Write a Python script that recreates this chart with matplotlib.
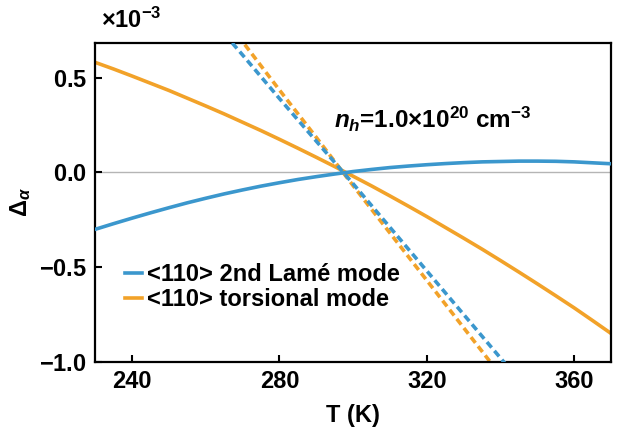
import matplotlib
matplotlib.use("Agg")
import matplotlib.pyplot as plt
from matplotlib.ticker import ScalarFormatter

# temperatures (K)
T_solid = [230, 235, 240, 245, 250, 255, 260, 265, 270, 275, 280, 285, 290, 295, 300,
           305, 310, 315, 320, 325, 330, 335, 340, 345, 350, 355, 360, 365, 370]
lame_solid = [-0.300, -0.270, -0.241, -0.213, -0.186, -0.160, -0.136, -0.113, -0.092,
              -0.072, -0.054, -0.037, -0.022, -0.008, 0.005, 0.016, 0.026, 0.034,
              0.041, 0.047, 0.052, 0.056, 0.058, 0.060, 0.060, 0.059, 0.056, 0.051, 0.046]
tors_solid = [0.581, 0.546, 0.509, 0.471, 0.433, 0.392, 0.351, 0.309, 0.265, 0.221,
              0.175, 0.128, 0.080, 0.031, -0.020, -0.071, -0.124, -0.178, -0.233,
              -0.290, -0.347, -0.405, -0.465, -0.526, -0.588, -0.651, -0.715, -0.782, -0.850]

T_dash = [260, 270, 280, 290, 300, 310, 320, 330, 340, 350]
lame_dash = [0.845, 0.62, 0.39, 0.165, -0.06, -0.29, -0.52, -0.75, -0.98, -1.21]
tors_dash = [0.94, 0.69, 0.435, 0.185, -0.07, -0.32, -0.57, -0.82, -1.07, -1.32]

labels = ["<110> 2nd Lamé mode", "<110> torsional mode"]
scale = 1e-3

BLUE = "#3b97cd"
ORANGE = "#f2a229"

plt.rcParams["font.family"] = ["Liberation Sans", "DejaVu Sans"]
plt.rcParams["font.weight"] = "bold"
plt.rcParams["mathtext.fontset"] = "custom"
plt.rcParams["mathtext.rm"] = "Liberation Sans:bold"
plt.rcParams["mathtext.it"] = "Liberation Sans:bold:italic"
plt.rcParams["mathtext.bf"] = "Liberation Sans:bold"

fs = 17

fig = plt.figure(figsize=(6.18, 4.33), dpi=100)
ax = fig.add_axes([0.154, 0.164, 0.835, 0.737])

ax.axhline(0, color="#b5b5b5", lw=1.0, zorder=1)

ax.plot(T_solid, [v * scale for v in lame_solid], color=BLUE, lw=2.6, label=labels[0], zorder=3)
ax.plot(T_solid, [v * scale for v in tors_solid], color=ORANGE, lw=2.6, label=labels[1], zorder=2)
ax.plot(T_dash, [v * scale for v in tors_dash], color=ORANGE, lw=2.6,
        linestyle=(0, (2.0, 1.2)), zorder=2)
ax.plot(T_dash, [v * scale for v in lame_dash], color=BLUE, lw=2.6,
        linestyle=(1.6, (2.0, 1.2)), zorder=3)

ax.set_xlim(230, 370)
ax.set_ylim(-1.0e-3, 0.684e-3)
ax.set_xticks([240, 280, 320, 360])
ax.set_yticks([-1.0e-3, -0.5e-3, 0.0, 0.5e-3])

fmt = ScalarFormatter(useMathText=True)
fmt.set_powerlimits((-2, 2))
ax.yaxis.set_major_formatter(fmt)
ax.yaxis.get_offset_text().set_visible(False)
ax.text(0.012, 1.03, r"×10$^{-3}$", transform=ax.transAxes, fontsize=fs,
        ha="left", va="bottom")

ax.tick_params(direction="in", length=5, width=1.5, labelsize=fs, pad=6)
for s in ax.spines.values():
    s.set_linewidth(1.6)

ax.set_xlabel("T (K)", fontsize=fs, fontweight="bold", labelpad=8)
ax.set_ylabel(r"$\Delta_{\alpha}$", fontsize=fs, labelpad=4)

ax.text(294.7, 0.28e-3, r"$n_h$=1.0×10$^{20}$ cm$^{-3}$", fontsize=17.5,
        ha="left", va="center")

leg = ax.legend(loc="upper left", bbox_to_anchor=(0.04, 0.34), frameon=False,
                fontsize=fs, handlelength=0.7, handletextpad=0.2,
                labelspacing=0.1, borderaxespad=0)

fig.savefig("out.png", dpi=100)
